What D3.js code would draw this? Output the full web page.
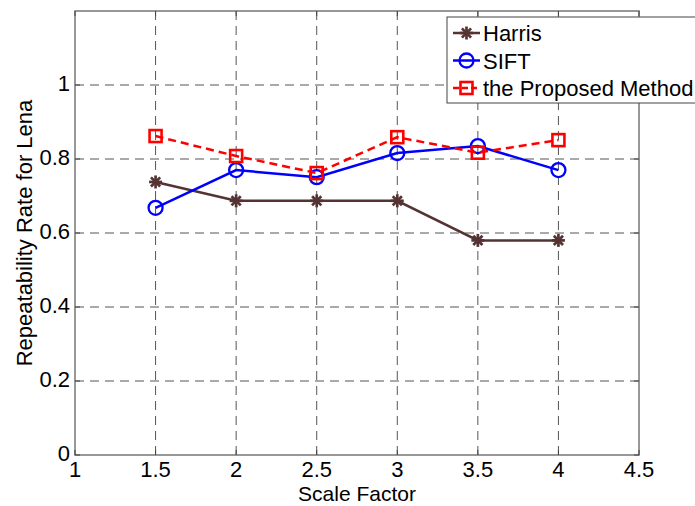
<!DOCTYPE html>
<html>
<head>
<meta charset="utf-8">
<script src="https://cdn.jsdelivr.net/npm/d3@7"></script>
<style>
  body { margin: 0; background: #fff; }
  svg { font-family: "Liberation Sans", Arial, sans-serif; }
</style>
</head>
<body>
<div id="chart"></div>
<script>
// data
const scales = [1.5, 2, 2.5, 3, 3.5, 4]
const harris = [0.738, 0.687, 0.687, 0.687, 0.580, 0.580]
const sift = [0.668, 0.770, 0.751, 0.816, 0.835, 0.770]
const proposed = [0.862, 0.808, 0.762, 0.859, 0.817, 0.851]
const xTicks = [1, 1.5, 2, 2.5, 3, 3.5, 4, 4.5]
const yTicks = [0, 0.2, 0.4, 0.6, 0.8, 1]
const seriesNames = ['Harris', 'SIFT', 'the Proposed Method']

const width = 695
const height = 506
const margin = { left: 75, right: 56, top: 11, bottom: 51 }
const fontSize = '22px'

const svg = d3.select('#chart')
  .append('svg')
  .attr('width', width)
  .attr('height', height)

const x = d3.scaleLinear().domain([1, 4.5]).range([margin.left, width - margin.right])
const y = d3.scaleLinear().domain([0, 1.2]).range([height - margin.bottom, margin.top])

const x0 = x.range()[0], x1 = x.range()[1]
const y0 = y.range()[0], y1 = y.range()[1]

// grid
const grid = svg.append('g')
  .attr('stroke', '#555')
  .attr('stroke-width', 1)
  .attr('stroke-dasharray', '9,6')
grid.selectAll('.gx')
  .data(xTicks.slice(1, -1))
  .join('line')
  .attr('x1', d => x(d)).attr('x2', d => x(d))
  .attr('y1', y0).attr('y2', y1)
grid.selectAll('.gy')
  .data(yTicks.slice(1))
  .join('line')
  .attr('y1', d => y(d)).attr('y2', d => y(d))
  .attr('x1', x0).attr('x2', x1)

// axes box
svg.append('rect')
  .attr('x', x0).attr('y', y1)
  .attr('width', x1 - x0).attr('height', y0 - y1)
  .attr('fill', 'none')
  .attr('stroke', '#777')
  .attr('stroke-width', 1.5)

// tick marks inside
const ticks = svg.append('g').attr('stroke', '#444').attr('stroke-width', 1)
xTicks.forEach(t => {
  ticks.append('line').attr('x1', x(t)).attr('x2', x(t)).attr('y1', y0).attr('y2', y0 - 5)
  ticks.append('line').attr('x1', x(t)).attr('x2', x(t)).attr('y1', y1).attr('y2', y1 + 5)
})
yTicks.forEach(t => {
  ticks.append('line').attr('y1', y(t)).attr('y2', y(t)).attr('x1', x0).attr('x2', x0 + 5)
  ticks.append('line').attr('y1', y(t)).attr('y2', y(t)).attr('x1', x1).attr('x2', x1 - 5)
})

// tick labels
svg.append('g').selectAll('text')
  .data(xTicks)
  .join('text')
  .attr('x', d => x(d))
  .attr('y', y0 + 22)
  .attr('text-anchor', 'middle')
  .style('font-size', fontSize)
  .text(d => d)

svg.append('g').selectAll('text')
  .data(yTicks)
  .join('text')
  .attr('x', x0 - 5)
  .attr('y', d => y(d) + 6)
  .attr('text-anchor', 'end')
  .style('font-size', fontSize)
  .text(d => d)

// axis titles
svg.append('text')
  .attr('x', (x0 + x1) / 2)
  .attr('y', 501)
  .attr('text-anchor', 'middle')
  .style('font-size', '21px')
  .text('Scale Factor')

svg.append('text')
  .attr('transform', `translate(32,${(y0 + y1) / 2}) rotate(-90)`)
  .attr('text-anchor', 'middle')
  .style('font-size', fontSize)
  .text('Repeatability Rate for Lena')

// markers
function asterisk(g, cx, cy, color) {
  const r = 6.5
  for (let i = 0; i < 4; i++) {
    const a = i * Math.PI / 4
    g.append('line')
      .attr('x1', cx - r * Math.cos(a)).attr('y1', cy - r * Math.sin(a))
      .attr('x2', cx + r * Math.cos(a)).attr('y2', cy + r * Math.sin(a))
      .attr('stroke', color).attr('stroke-width', 2.7)
  }
}
function circle(g, cx, cy, color) {
  g.append('circle').attr('cx', cx).attr('cy', cy).attr('r', 7)
    .attr('fill', 'none').attr('stroke', color).attr('stroke-width', 2.3)
}
function square(g, cx, cy, color) {
  g.append('rect').attr('x', cx - 6).attr('y', cy - 6).attr('width', 12).attr('height', 12)
    .attr('fill', 'none').attr('stroke', color).attr('stroke-width', 2.6)
}

const series = [
  { name: seriesNames[0], values: harris, color: '#553333', dash: null, marker: asterisk },
  { name: seriesNames[1], values: sift, color: '#0000ff', dash: null, marker: circle },
  { name: seriesNames[2], values: proposed, color: '#ff0000', dash: '8,5', marker: square }
]

const line = d3.line().x(d => x(d[0])).y(d => y(d[1]))

series.forEach(s => {
  const pts = scales.map((v, i) => [v, s.values[i]])
  const g = svg.append('g')
  g.append('path')
    .attr('d', line(pts))
    .attr('fill', 'none')
    .attr('stroke', s.color)
    .attr('stroke-width', 2.5)
    .attr('stroke-dasharray', s.dash)
  pts.forEach(p => s.marker(g, x(p[0]), y(p[1]), s.color))
})

// legend
const lg = svg.append('g')
lg.append('rect')
  .attr('x', 447).attr('y', 17)
  .attr('width', 260).attr('height', 86)
  .attr('fill', '#fff')
  .attr('stroke', '#444')
  .attr('stroke-width', 1)

series.forEach((s, i) => {
  const cy = 33 + i * 27.5
  lg.append('line')
    .attr('x1', 453).attr('x2', 480)
    .attr('y1', cy).attr('y2', cy)
    .attr('stroke', s.color).attr('stroke-width', 2.5)
    .attr('stroke-dasharray', s.dash ? '6,3' : null)
  s.marker(lg, 466.5, cy, s.color)
  lg.append('text')
    .attr('x', 483).attr('y', cy + 8)
    .style('font-size', fontSize)
    .text(s.name)
})
</script>
</body>
</html>
